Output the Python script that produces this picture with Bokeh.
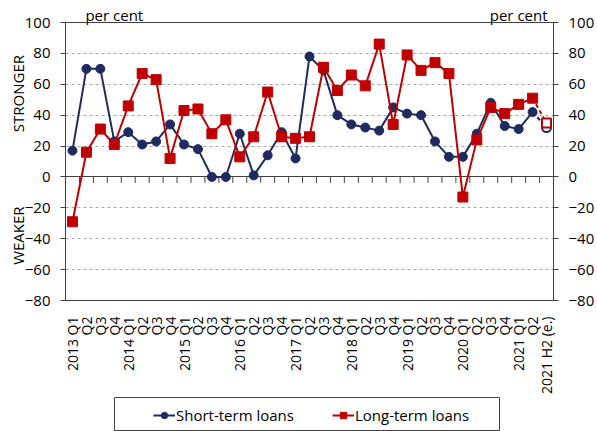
import numpy as np
from math import pi
from bokeh.plotting import figure
from bokeh.layouts import column, row
from bokeh.models import (LinearAxis, FixedTicker, Range1d, Legend, LegendItem, Grid, Spacer)
from bokeh.embed import file_html
from bokeh.resources import INLINE

categories = ["2013 Q1", "Q2", "Q3", "Q4",
              "2014 Q1", "Q2", "Q3", "Q4",
              "2015 Q1", "Q2", "Q3", "Q4",
              "2016 Q1", "Q2", "Q3", "Q4",
              "2017 Q1", "Q2", "Q3", "Q4",
              "2018 Q1", "Q2", "Q3", "Q4",
              "2019 Q1", "Q2", "Q3", "Q4",
              "2020 Q1", "Q2", "Q3", "Q4",
              "2021 Q1", "Q2", "2021 H2 (e.)"]
short_term = [17, 70, 70, 23, 29, 21, 23, 34, 21, 18, 0, 0, 28, 1, 14, 29,
              12, 78, 69, 40, 34, 32, 30, 45, 41, 40, 23, 13, 13, 28, 48, 33,
              31, 42, 32]
long_term = [-29, 16, 31, 21, 46, 67, 63, 12, 43, 44, 28, 37, 13, 26, 55, 26,
             25, 26, 71, 56, 66, 59, 86, 34, 79, 69, 74, 67, -13, 24, 45, 41,
             47, 51, 35]
y_ticks = [-80, -60, -40, -20, 0, 20, 40, 60, 80, 100]
grid_ticks = [-60, -40, -20, 20, 40, 60, 80]
unit_label = "per cent"
side_labels = {54: "STRONGER", -38: "WEAKER"}
series_names = ["Short-term loans", "Long-term loans"]

NAVY = "#1F2A5E"
RED = "#C00000"
AX = "#404040"
FONT = "Open Sans"

x = list(range(len(categories)))
n_obs = len(categories) - 1  # last one is an estimate

p = figure(width=597, height=396,
           x_range=Range1d(-0.5, len(categories) - 0.5), y_range=Range1d(-80, 100),
           x_axis_location=None, y_axis_location="left",
           output_backend="svg", toolbar_location=None,
           background_fill_color="white", border_fill_color="white")
p.min_border_left = 65
p.min_border_right = 42
p.min_border_top = 22
p.min_border_bottom = 94
p.outline_line_color = AX
p.outline_line_width = 1
p.xgrid.visible = False
p.ygrid.ticker = FixedTicker(ticks=grid_ticks)
p.ygrid.grid_line_color = "#A6A6A6"
p.ygrid.grid_line_dash = "3 3"
p.ygrid.grid_line_width = 1
# solid zero line
p.add_layout(Grid(dimension=1, ticker=FixedTicker(ticks=[0]), grid_line_color=AX,
                  grid_line_width=1))


def style_y(ax):
    ax.ticker = FixedTicker(ticks=y_ticks)
    ax.major_tick_in = 0
    ax.major_tick_out = 5
    ax.minor_tick_line_color = None
    ax.axis_line_color = AX
    ax.major_tick_line_color = AX
    ax.major_label_text_font = FONT
    ax.major_label_text_font_size = "15px"
    ax.major_label_text_color = "black"
    ax.major_label_standoff = 10


def bare(ax, font_size="15px"):
    ax.major_tick_line_color = None
    ax.minor_tick_line_color = None
    ax.axis_line_color = None
    ax.major_label_text_font = FONT
    ax.major_label_text_font_size = font_size
    ax.major_label_text_color = "black"


style_y(p.yaxis[0])
right_ax = LinearAxis()
style_y(right_ax)
p.add_layout(right_ax, "right")

# STRONGER / WEAKER on the far left
side_ax = LinearAxis(ticker=FixedTicker(ticks=list(side_labels.keys())),
                     major_label_overrides=side_labels)
bare(side_ax)
side_ax.major_label_orientation = "parallel"
side_ax.major_label_standoff = -13
p.add_layout(side_ax, "left")

# "per cent" above both value axes
pc_ticks = [3, 32]
pc_ax = LinearAxis(ticker=FixedTicker(ticks=pc_ticks),
                   major_label_overrides={t: unit_label for t in pc_ticks})
bare(pc_ax)
pc_ax.major_label_standoff = -8
p.add_layout(pc_ax, "above")

# category labels below the frame
lab_ax = LinearAxis(ticker=FixedTicker(ticks=x),
                    major_label_overrides={i: c for i, c in enumerate(categories)})
bare(lab_ax, "14px")
lab_ax.major_label_orientation = pi / 2
lab_ax.major_label_standoff = 10
p.add_layout(lab_ax, "below")

# tick marks under the zero line, between categories
bounds = (np.arange(len(categories) - 1) + 0.5).tolist()
tick_len = 3.8  # ~6 px in data units
p.segment(x0=bounds, y0=[0] * len(bounds), x1=bounds, y1=[-tick_len] * len(bounds),
          line_color=AX, line_width=1)

# short-term
p.line(x[:n_obs], short_term[:n_obs], line_color=NAVY, line_width=2)
p.line(x[n_obs - 1:], short_term[n_obs - 1:], line_color=NAVY, line_width=2, line_dash="4 3")
p.scatter(x[:n_obs], short_term[:n_obs], marker="circle", size=9,
          fill_color=NAVY, line_color=NAVY)
p.scatter(x[n_obs:], short_term[n_obs:], marker="circle", size=9,
          fill_color="white", line_color=NAVY, line_width=2)

# long-term
p.line(x[:n_obs], long_term[:n_obs], line_color=RED, line_width=2)
p.line(x[n_obs - 1:], long_term[n_obs - 1:], line_color=RED, line_width=2, line_dash="4 3")
p.scatter(x[:n_obs], long_term[:n_obs], marker="square", size=10,
          fill_color=RED, line_color=RED)
p.scatter(x[n_obs:], long_term[n_obs:], marker="square", size=9,
          fill_color="white", line_color=RED, line_width=2)

# legend box as its own small figure below the chart; the series are plotted
# there outside its visible range so that only their legend glyphs show
lf = figure(width=387, height=35, x_range=Range1d(1000, 1001), y_range=Range1d(1000, 1001),
            x_axis_location=None, y_axis_location=None,
            output_backend="svg", toolbar_location=None,
            background_fill_color="white", border_fill_color="white",
            min_border_left=1, min_border_right=1, min_border_top=1, min_border_bottom=0)
lf.xgrid.visible = False
lf.ygrid.visible = False
lf.outline_line_color = AX
lf.outline_line_width = 1
ll1 = lf.line(x[:n_obs], short_term[:n_obs], line_color=NAVY, line_width=2)
ls1 = lf.scatter(x[:n_obs], short_term[:n_obs], marker="circle", size=9,
                 fill_color=NAVY, line_color=NAVY)
ll2 = lf.line(x[:n_obs], long_term[:n_obs], line_color=RED, line_width=2)
ls2 = lf.scatter(x[:n_obs], long_term[:n_obs], marker="square", size=10,
                 fill_color=RED, line_color=RED)
legend = Legend(items=[LegendItem(label=series_names[0], renderers=[ll1, ls1]),
                       LegendItem(label=series_names[1], renderers=[ll2, ls2])],
                orientation="horizontal", location=(39, 6),
                glyph_width=22, glyph_height=16, label_standoff=1, spacing=38,
                padding=0, margin=0, border_line_color=None, background_fill_alpha=0,
                label_text_font=FONT, label_text_font_size="15px",
                label_text_color="black")
lf.add_layout(legend, "center")

layout = column(p, row(Spacer(width=113, height=35), lf))

open("out.html", "w").write(file_html(layout, INLINE))
